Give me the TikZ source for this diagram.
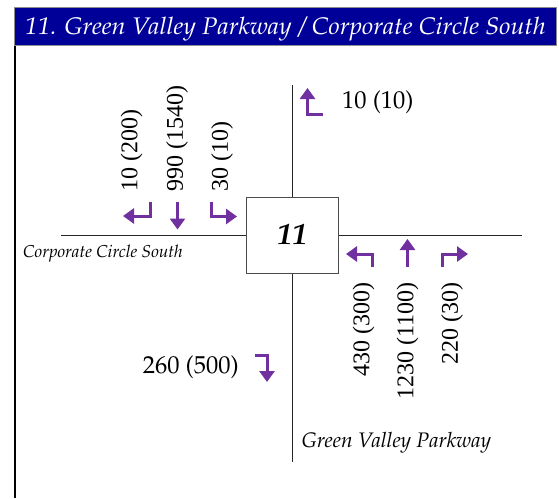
\documentclass[tikz,border=0pt]{standalone}
\usepackage[T1]{fontenc}
\usepackage{fontspec}
\setmainfont{Liberation Serif}
\newcommand{\pal}{\fontencoding{T1}\fontfamily{ppl}\selectfont}
\usetikzlibrary{arrows.meta}
\definecolor{titleblue}{RGB}{0,0,153}
\definecolor{turnpurple}{RGB}{112,48,160}
\tikzset{
  turn/.style={draw=turnpurple, line width=3pt, -{Triangle[width=15pt,length=11pt]}},
  road/.style={draw=black!85, line width=1pt},
  vol/.style={font=\fontsize{24}{26}\selectfont, inner sep=0pt, rotate=90},
  hvol/.style={font=\pal\fontsize{24.5}{26}\selectfont, inner sep=0pt},
  roadname/.style={inner sep=0pt, anchor=base west},
}
\begin{document}
\begin{tikzpicture}[x=1pt,y=-1pt]
\useasboundingbox (0,0) rectangle (559,498);
\fill[white] (0,0) rectangle (559,498);
% frame
\draw[line width=2pt, black] (15,45) -- (15,498);
\node[draw=black!45, line width=1pt, fill=titleblue, minimum width=542pt, minimum height=38pt, inner sep=0pt, anchor=north west] (title) at (14,7) {};
\node[text=white, anchor=base west, inner sep=0pt, xscale=1.05, font=\pal\itshape\fontsize{24}{26}\selectfont] (titletext) at (25,34.5) {11. Green Valley Parkway / Corporate Circle South};
% intersection box
\node[draw=black!70, line width=1pt, fill=white, minimum width=92pt, minimum height=76pt, inner sep=0pt, font=\pal\bfseries\itshape\fontsize{30}{32}\selectfont] (box) at (292,235) {11};
% roads
\coordinate (nend) at (292,85);
\coordinate (send) at (292,462);
\coordinate (wend) at (61,235);
\coordinate (eend) at (522,235);
\draw[road] (nend) -- (box.north);
\draw[road] (box.south) -- (send);
\draw[road] (wend) -- (box.west);
\draw[road] (box.east) -- (eend);
% road names
\node[roadname, font=\pal\itshape\fontsize{17.2}{19}\selectfont] (cname) at (23,257.5) {Corporate Circle South};
\node[roadname, font=\pal\itshape\fontsize{21}{23}\selectfont] (gname) at (301.5,447) {Green Valley Parkway};
% southbound
\coordinate (sbl0) at (150.5,202); \coordinate (sbl1) at (150.5,216); \coordinate (sbl2) at (123,216);
\draw[turn] (sbl0) -- (sbl1) -- (sbl2);
\coordinate (sbt0) at (177.5,202); \coordinate (sbt1) at (177.5,229.5);
\draw[turn] (sbt0) -- (sbt1);
\coordinate (sbr0) at (211.5,202); \coordinate (sbr1) at (211.5,216.5); \coordinate (sbr2) at (237,216.5);
\draw[turn] (sbr0) -- (sbr1) -- (sbr2);
\node[vol, anchor=west] (vsbl) at (131.5,192) {10 (200)};
\node[vol, anchor=west] (vsbt) at (177,192) {990 (1540)};
\node[vol, anchor=west] (vsbr) at (222,192) {30 (10)};
% northeast
\coordinate (ne0) at (322.5,114); \coordinate (ne1) at (307.5,114); \coordinate (ne2) at (307.5,88);
\draw[turn] (ne0) -- (ne1) -- (ne2);
\node[hvol, anchor=west] (vne) at (342,102) {10 (10)};
% northbound
\coordinate (nbl0) at (372.5,267); \coordinate (nbl1) at (372.5,254); \coordinate (nbl2) at (346,254);
\draw[turn] (nbl0) -- (nbl1) -- (nbl2);
\coordinate (nbt0) at (407.5,267); \coordinate (nbt1) at (407.5,239);
\draw[turn] (nbt0) -- (nbt1);
\coordinate (nbr0) at (442,267); \coordinate (nbr1) at (442,254); \coordinate (nbr2) at (468,254);
\draw[turn] (nbr0) -- (nbr1) -- (nbr2);
\node[vol, anchor=east] (vnbl) at (363.5,282) {430 (300)};
\node[vol, anchor=east] (vnbt) at (407.5,282) {1230 (1100)};
\node[vol, anchor=east] (vnbr) at (452,282) {220 (30)};
% southwest
\coordinate (sw0) at (255,355); \coordinate (sw1) at (267,355); \coordinate (sw2) at (267,382);
\draw[turn] (sw0) -- (sw1) -- (sw2);
\node[hvol, anchor=east] (vsw) at (239,367) {260 (500)};
\end{tikzpicture}
\end{document}
